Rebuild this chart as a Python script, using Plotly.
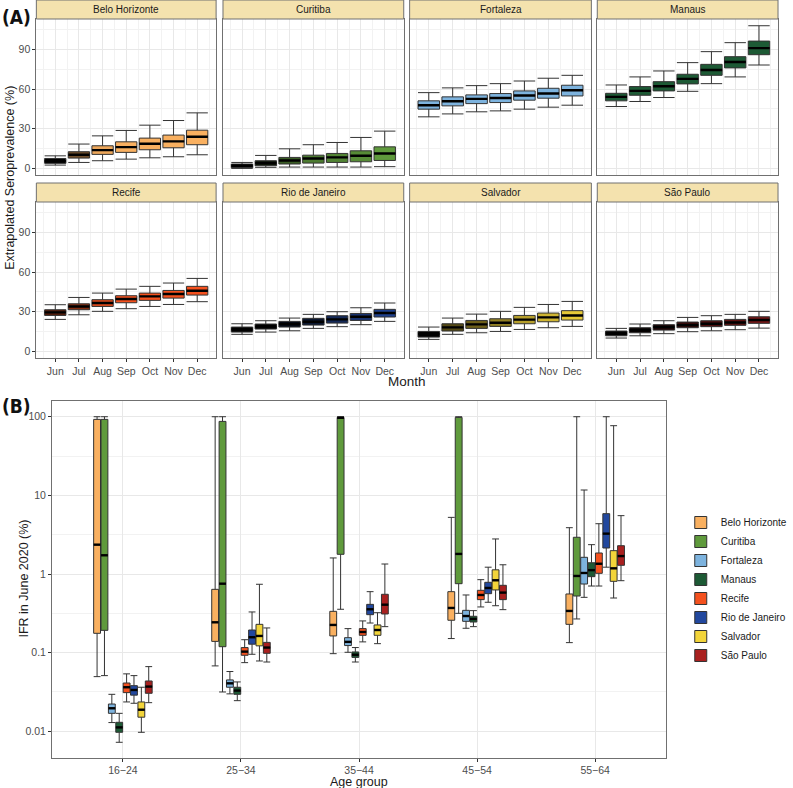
import plotly.graph_objects as go

W, H = 793, 788

cities = ["Belo Horizonte", "Curitiba", "Fortaleza", "Manaus", "Recife",
          "Rio de Janeiro", "Salvador", "São Paulo"]
months = ["Jun", "Jul", "Aug", "Sep", "Oct", "Nov", "Dec"]
age_groups = ["16−24", "25−34", "35−44", "45−54", "55−64"]

# ---- Panel A: extrapolated seroprevalence (%) per city x month ----
sero_low = [
    [2.5, 4.5, 5.8, 7.0, 8.0, 8.8, 10.3],
    [0.0, 0.8, 1.0, 1.0, 1.0, 1.0, 1.3],
    [39.0, 41.2, 42.8, 43.5, 44.8, 46.3, 47.8],
    [46.8, 50.6, 53.6, 58.3, 64.1, 69.2, 78.2],
    [24.2, 27.7, 30.3, 32.3, 34.0, 35.5, 37.6],
    [12.9, 14.6, 15.6, 17.4, 18.7, 20.2, 22.7],
    [9.1, 12.9, 14.1, 15.1, 16.6, 17.9, 18.9],
    [10.1, 11.8, 13.4, 14.9, 15.6, 16.4, 17.6],
]
sero_q1 = [
    [3.8, 7.8, 10.6, 12.1, 14.1, 15.6, 17.9],
    [0.5, 2.0, 3.3, 4.0, 4.5, 5.0, 6.0],
    [44.8, 47.3, 49.0, 49.8, 51.6, 53.1, 54.8],
    [51.1, 55.3, 58.6, 63.9, 70.4, 76.0, 86.0],
    [27.2, 31.5, 34.0, 36.8, 38.6, 40.3, 42.6],
    [14.6, 16.9, 18.4, 19.9, 21.4, 23.4, 26.0],
    [10.8, 15.4, 17.4, 18.9, 20.9, 22.4, 23.7],
    [11.8, 14.1, 16.1, 17.9, 18.7, 19.7, 21.2],
]
sero_med = [
    [5.5, 10.3, 13.8, 16.1, 18.6, 20.4, 23.9],
    [2.0, 4.0, 6.0, 7.5, 8.3, 9.6, 11.3],
    [47.8, 50.8, 52.6, 53.3, 55.1, 56.6, 59.1],
    [54.1, 58.6, 62.1, 67.7, 74.4, 80.5, 91.0],
    [29.5, 34.0, 36.6, 39.6, 41.6, 43.4, 45.9],
    [16.6, 18.7, 20.7, 22.4, 24.2, 26.2, 29.0],
    [13.1, 18.2, 20.4, 21.7, 24.0, 25.7, 27.2],
    [13.6, 16.1, 18.4, 19.9, 20.9, 21.9, 23.7],
]
sero_q3 = [
    [7.5, 12.6, 17.1, 20.1, 22.9, 25.2, 28.9],
    [3.3, 5.8, 8.3, 10.0, 11.3, 13.3, 16.3],
    [51.1, 54.1, 55.6, 56.6, 58.6, 60.6, 62.9],
    [56.8, 61.9, 65.6, 71.2, 78.7, 84.5, 96.3],
    [31.5, 36.0, 39.1, 42.1, 44.1, 46.1, 49.2],
    [18.4, 20.7, 22.7, 25.0, 27.0, 28.7, 31.8],
    [15.1, 20.9, 23.4, 24.7, 27.2, 29.0, 30.8],
    [15.4, 17.9, 20.2, 22.2, 23.2, 24.2, 26.2],
]
sero_high = [
    [9.5, 18.4, 24.6, 28.7, 32.7, 36.2, 42.0],
    [4.5, 9.8, 14.8, 17.9, 19.6, 23.4, 28.2],
    [57.3, 60.9, 62.6, 64.1, 66.1, 68.2, 70.4],
    [63.1, 69.2, 73.7, 80.0, 88.3, 95.1, 107.9],
    [35.3, 40.8, 44.1, 47.1, 49.2, 51.7, 55.2],
    [20.9, 23.2, 25.2, 28.0, 30.0, 33.0, 36.6],
    [18.4, 25.2, 28.2, 30.3, 33.3, 35.5, 37.8],
    [17.4, 20.7, 23.2, 25.7, 27.0, 28.0, 30.3],
]

# ---- Panel B: IFR in June 2020 (%) per city x age group ----
ifr_low = [
    [0.0495, 0.0678, 0.097, 0.151, 0.134],
    [0.051, 0.0316, 0.356, 0.316, 0.268],
    [0.0129, 0.0299, 0.101, 0.204, 0.505],
    [0.00724, 0.0245, 0.076, 0.214, 0.703],
    [0.0236, 0.0746, 0.137, 0.381, 0.703],
    [0.0227, 0.0953, 0.238, 0.437, 1.22],
    [0.0097, 0.0783, 0.13, 0.395, 0.495],
    [0.0231, 0.076, 0.214, 0.352, 0.822],
]
ifr_q1 = [
    [0.176, 0.139, 0.163, 0.258, 0.229],
    [0.192, 0.119, 1.78, 0.753, 0.525],
    [0.0169, 0.0363, 0.123, 0.25, 0.746],
    [0.0097, 0.0295, 0.087, 0.245, 0.925],
    [0.031, 0.0925, 0.166, 0.472, 1.02],
    [0.0288, 0.128, 0.304, 0.562, 2.14],
    [0.0151, 0.122, 0.166, 0.627, 0.807],
    [0.0304, 0.098, 0.31, 0.472, 1.29],
]
ifr_med = [
    [2.36, 0.243, 0.225, 0.37, 0.339],
    [1.73, 0.753, 97.0, 1.8, 0.944],
    [0.0196, 0.0407, 0.137, 0.292, 1.03],
    [0.0112, 0.0329, 0.094, 0.268, 1.12],
    [0.0363, 0.103, 0.183, 0.541, 1.35],
    [0.0335, 0.157, 0.356, 0.664, 3.26],
    [0.0188, 0.163, 0.194, 0.832, 1.18],
    [0.037, 0.116, 0.407, 0.58, 1.69],
]
ifr_q3 = [
    [92.5, 0.638, 0.335, 0.596, 0.557],
    [92.5, 87.2, 98.0, 98.0, 2.93],
    [0.0222, 0.045, 0.155, 0.345, 1.63],
    [0.013, 0.0363, 0.102, 0.29, 1.39],
    [0.0411, 0.116, 0.202, 0.62, 1.85],
    [0.038, 0.194, 0.411, 0.784, 5.85],
    [0.0236, 0.229, 0.225, 1.13, 1.98],
    [0.0436, 0.135, 0.552, 0.718, 2.29],
]
ifr_high = [
    [100, 100, 1.6, 5.25, 3.88],
    [100, 100, 100, 100, 100],
    [0.0295, 0.0575, 0.202, 0.541, 11.7],
    [0.0169, 0.0424, 0.116, 0.342, 2.36],
    [0.0537, 0.146, 0.253, 0.847, 4.36],
    [0.051, 0.329, 0.596, 1.22, 100],
    [0.0363, 0.74, 0.322, 2.79, 76.9],
    [0.0664, 0.206, 1.34, 1.31, 5.52],
]

# ---- styles ----
colors = ["#F9B060", "#5F9A3C", "#7DB3DE", "#1D5A35", "#F4511E",
          "#22489E", "#F2D43A", "#A9201F"]
# brightness of each box fill in panel A (0 = black, 1 = full colour)
shade = [
    [0.0, 0.45, 0.95, 1, 1, 1, 1],
    [0.0, 0.15, 0.6, 0.8, 0.85, 0.9, 1],
    [1, 1, 1, 1, 1, 1, 1],
    [1, 1, 1, 1, 1, 1, 1],
    [0.35, 0.55, 0.9, 1, 1, 1, 1],
    [0.0, 0.0, 0.15, 0.3, 0.55, 0.7, 0.9],
    [0.0, 0.35, 0.45, 0.6, 0.75, 0.85, 0.95],
    [0.0, 0.05, 0.2, 0.3, 0.45, 0.55, 0.7],
]

FONT = "Liberation Sans, Arial, sans-serif"
TICK_COLOR = "#4D4D4D"
GRID = "#E8E8E8"
GRID_MINOR = "#F2F2F2"
BORDER = "#707070"
OUTLINE = "#333333"


def darken(hexc, f):
    r, g, b = int(hexc[1:3], 16), int(hexc[3:5], 16), int(hexc[5:7], 16)
    return "rgb(%d,%d,%d)" % (round(r * f), round(g * f), round(b * f))


def px_x(p):
    return p / W


def px_y(p):
    return 1 - p / H


# panel geometry (pixels)
col_x = [(37, 220), (227, 411), (417, 602), (608, 792)]
row_plot = [(19, 175), (202, 358)]
row_strip = [(0, 19), (183, 202)]
B_x = (53, 678)
B_y = (401, 758)

fig = go.Figure()
layout = {}
shapes = []
annotations = []

BOX_W = 0.9
for ci, city in enumerate(cities):
    r, c = divmod(ci, 4)
    k = ci + 1
    xa = "x" if k == 1 else "x%d" % k
    ya = "y" if k == 1 else "y%d" % k
    xs = list(range(1, len(months) + 1))
    for mi in range(len(months)):
        fig.add_trace(go.Box(
            x=[xs[mi]], q1=[sero_q1[ci][mi]], median=[sero_med[ci][mi]],
            q3=[sero_q3[ci][mi]], lowerfence=[sero_low[ci][mi]],
            upperfence=[sero_high[ci][mi]],
            width=BOX_W, whiskerwidth=1, boxpoints=False,
            fillcolor=darken(colors[ci], shade[ci][mi]),
            line=dict(color=OUTLINE, width=1),
            xaxis=xa, yaxis=ya, showlegend=False, hoverinfo="skip"))
    mx, my = [], []
    for mi in range(len(months)):
        mx += [xs[mi] - BOX_W / 2, xs[mi] + BOX_W / 2, None]
        my += [sero_med[ci][mi], sero_med[ci][mi], None]
    fig.add_trace(go.Scatter(x=mx, y=my, mode="lines",
                             line=dict(color="black", width=2.4),
                             xaxis=xa, yaxis=ya, showlegend=False,
                             hoverinfo="skip"))

    x0, x1 = col_x[c]
    y0, y1 = row_plot[r]
    axname_x = "xaxis" if k == 1 else "xaxis%d" % k
    axname_y = "yaxis" if k == 1 else "yaxis%d" % k
    layout[axname_x] = dict(
        domain=[px_x(x0), px_x(x1)], anchor=ya, range=[0.2, 7.8],
        tickmode="array", tickvals=xs, ticktext=months,
        showticklabels=(r == 1), ticks="outside" if r == 1 else "",
        ticklen=3, tickcolor="#333", tickfont=dict(size=10.5, color=TICK_COLOR, family=FONT),
        showgrid=True, gridcolor=GRID, gridwidth=1,
        minor=dict(tickvals=[x + 0.5 for x in range(0, 8)], showgrid=True,
                   gridcolor=GRID_MINOR, gridwidth=0.6, ticks=""),
        showline=True, mirror=True, linecolor=BORDER, linewidth=1,
        zeroline=False, fixedrange=True)
    layout[axname_y] = dict(
        domain=[px_y(y1), px_y(y0)], anchor=xa, range=[-5, 113],
        tickmode="array", tickvals=[0, 30, 60, 90],
        showticklabels=(c == 0), ticks="outside" if c == 0 else "",
        ticklen=3, tickcolor="#333", tickfont=dict(size=10.5, color=TICK_COLOR, family=FONT),
        showgrid=True, gridcolor=GRID, gridwidth=1,
        minor=dict(tickvals=[15, 45, 75, 105], showgrid=True,
                   gridcolor=GRID_MINOR, gridwidth=0.6, ticks=""),
        showline=True, mirror=True, linecolor=BORDER, linewidth=1,
        zeroline=False, fixedrange=True)
    s0, s1 = row_strip[r]
    shapes.append(dict(type="rect", xref="paper", yref="paper",
                       x0=px_x(x0), x1=px_x(x1), y0=px_y(s1), y1=px_y(s0),
                       fillcolor="#F4E2AE", line=dict(color=BORDER, width=1),
                       layer="above"))
    annotations.append(dict(text=city, xref="paper", yref="paper",
                            x=px_x((x0 + x1) / 2), y=px_y((s0 + s1) / 2),
                            showarrow=False, xanchor="center", yanchor="middle",
                            font=dict(size=10, color="#1A1A1A", family=FONT)))

# ---- Panel B ----
STEP = 0.0625
BW = 0.058
for ci, city in enumerate(cities):
    off = (ci - 3.5) * STEP
    xs = [g + 1 + off for g in range(len(age_groups))]
    fig.add_trace(go.Box(
        x=xs, q1=ifr_q1[ci], median=ifr_med[ci], q3=ifr_q3[ci],
        lowerfence=ifr_low[ci], upperfence=ifr_high[ci],
        width=BW, whiskerwidth=1, boxpoints=False, name=city,
        fillcolor=colors[ci], line=dict(color=OUTLINE, width=1),
        xaxis="x9", yaxis="y9", showlegend=True, legendgroup=city,
        hoverinfo="skip"))
for ci, city in enumerate(cities):
    off = (ci - 3.5) * STEP
    mx, my = [], []
    for g in range(len(age_groups)):
        xc = g + 1 + off
        mx += [xc - BW / 2, xc + BW / 2, None]
        my += [ifr_med[ci][g], ifr_med[ci][g], None]
    fig.add_trace(go.Scatter(x=mx, y=my, mode="lines",
                             line=dict(color="black", width=2.4),
                             xaxis="x9", yaxis="y9", showlegend=False,
                             legendgroup=city, hoverinfo="skip"))

layout["xaxis9"] = dict(
    domain=[px_x(B_x[0]), px_x(B_x[1])], anchor="y9", range=[0.4, 5.6],
    tickmode="array", tickvals=[1, 2, 3, 4, 5], ticktext=age_groups,
    ticks="outside", ticklen=3, tickcolor="#333", ticklabelstandoff=-1,
    tickfont=dict(size=10.5, color=TICK_COLOR, family=FONT),
    showgrid=True, gridcolor=GRID, gridwidth=1,
    showline=True, mirror=True, linecolor=BORDER, linewidth=1,
    zeroline=False, fixedrange=True)
layout["yaxis9"] = dict(
    domain=[px_y(B_y[1]), px_y(B_y[0])], anchor="x9", type="log",
    range=[-2.34, 2.2], tickmode="array",
    tickvals=[0.01, 0.1, 1, 10, 100], ticktext=["0.01", "0.1", "1", "10", "100"],
    ticks="outside", ticklen=3, tickcolor="#333",
    tickfont=dict(size=10.5, color=TICK_COLOR, family=FONT),
    showgrid=True, gridcolor=GRID, gridwidth=1,
    minor=dict(tickvals=[10 ** (e + 0.5) for e in range(-3, 3)], showgrid=True,
               gridcolor=GRID_MINOR, gridwidth=0.6, ticks=""),
    showline=True, mirror=True, linecolor=BORDER, linewidth=1,
    zeroline=False, fixedrange=True)

# titles / labels
LABEL_FONT = "DejaVu Sans Condensed, Liberation Sans Narrow, Liberation Sans, Arial"
annotations += [
    dict(text="<b>(A)</b>", xref="paper", yref="paper", x=0, y=px_y(17),
         xanchor="left", yanchor="middle", showarrow=False,
         font=dict(size=19, color="#111", family=LABEL_FONT)),
    dict(text="<b>(B)</b>", xref="paper", yref="paper", x=0, y=px_y(406),
         xanchor="left", yanchor="middle", showarrow=False,
         font=dict(size=19, color="#111", family=LABEL_FONT)),
    dict(text="Extrapolated Seroprevalence (%)", xref="paper", yref="paper",
         x=px_x(10), y=px_y(178), textangle=-90, showarrow=False,
         xanchor="center", yanchor="middle",
         font=dict(size=12.5, color="#1A1A1A", family=FONT)),
    dict(text="Month", xref="paper", yref="paper", x=px_x(414), y=px_y(381),
         showarrow=False, xanchor="center", yanchor="middle",
         font=dict(size=13.5, color="#1A1A1A", family=FONT)),
    dict(text="IFR in June 2020 (%)", xref="paper", yref="paper",
         x=px_x(24), y=px_y(579), textangle=-90, showarrow=False,
         xanchor="center", yanchor="middle",
         font=dict(size=12.5, color="#1A1A1A", family=FONT)),
    dict(text="Age group", xref="paper", yref="paper", x=px_x(365), y=px_y(782),
         showarrow=False, xanchor="center", yanchor="middle",
         font=dict(size=12.5, color="#1A1A1A", family=FONT)),
]

fig.update_layout(
    width=W, height=H, margin=dict(l=0, r=0, t=0, b=0),
    paper_bgcolor="white", plot_bgcolor="white",
    boxmode="overlay", shapes=shapes, annotations=annotations,
    legend=dict(x=px_x(693), y=px_y(508), xanchor="left", yanchor="top",
                font=dict(size=10, color="#1A1A1A", family=FONT),
                bgcolor="rgba(0,0,0,0)", tracegroupgap=0, itemwidth=30),
    font=dict(family=FONT),
    **layout)

fig.write_html("out.html", config={"displayModeBar": False},
               post_script="document.body.style.margin='0';document.body.style.overflow='hidden';")
